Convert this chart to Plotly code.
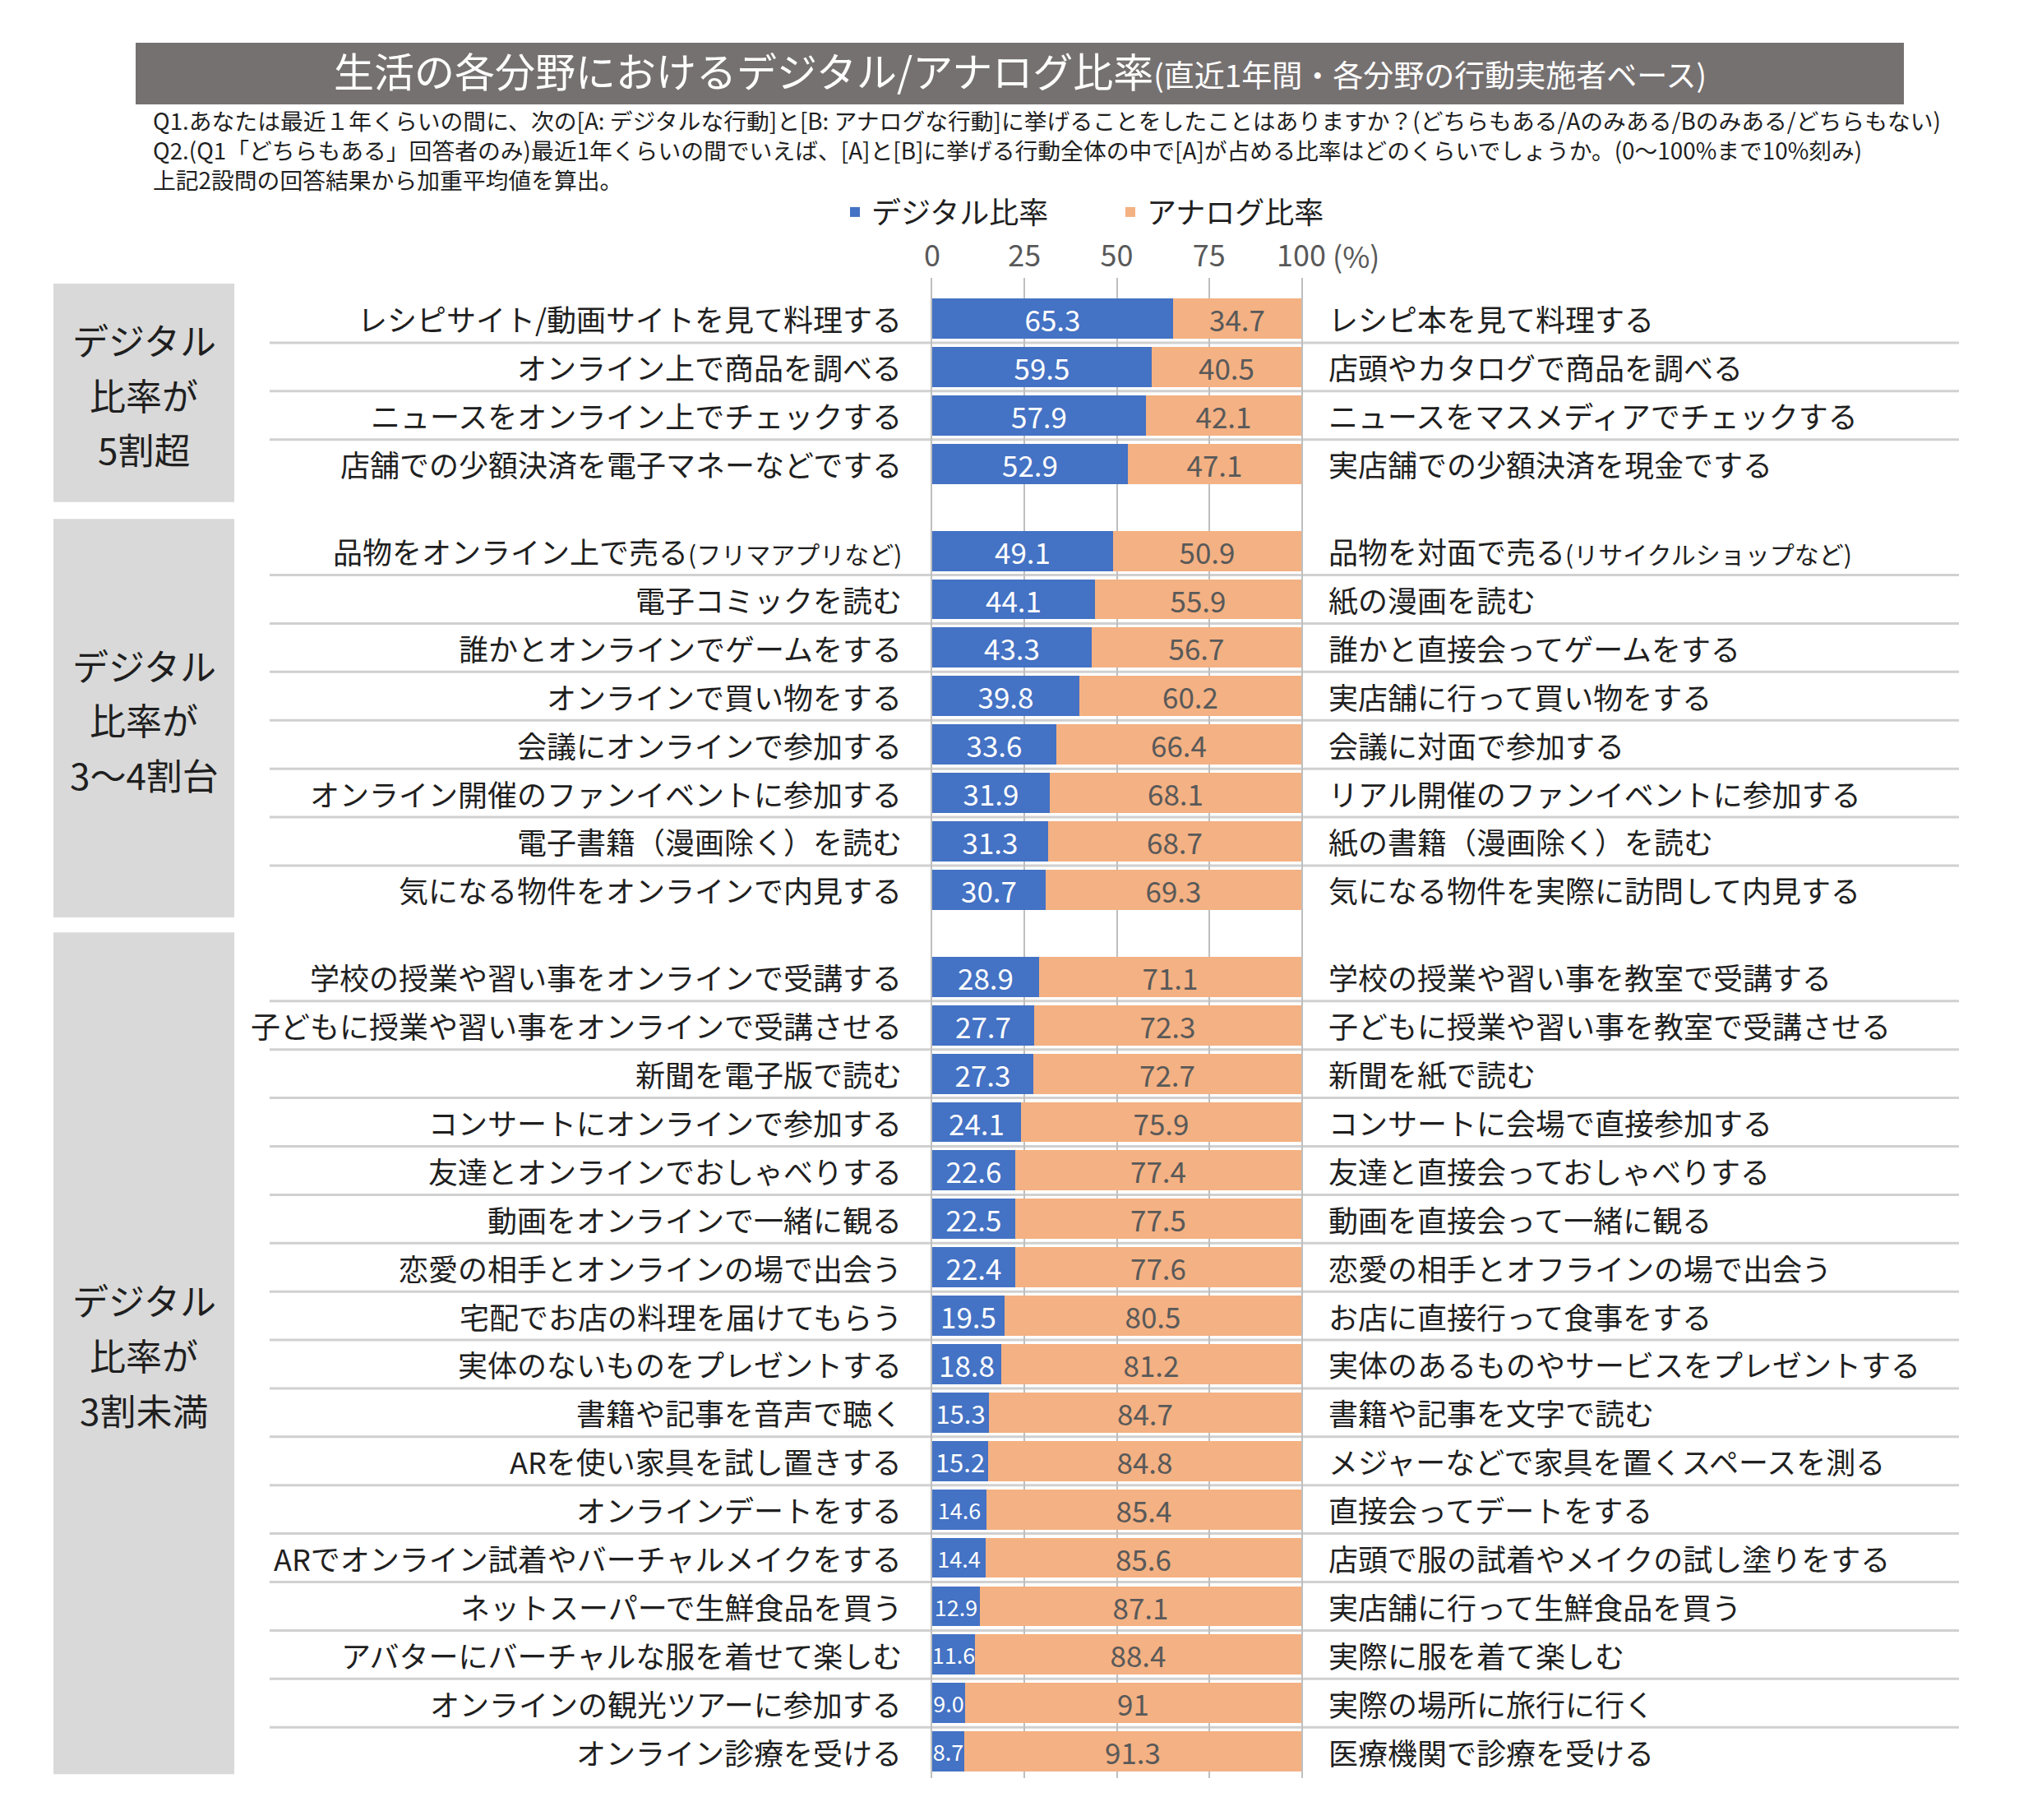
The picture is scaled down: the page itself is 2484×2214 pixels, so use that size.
import plotly.graph_objects as go

# page body has an 8px margin, so the figure is sized to fit the 2484x2214 window
OFF = 8
W, H = 2484 - 2 * OFF, 2214 - 2 * OFF
FONT = "Noto Sans CJK JP"

# ---------------- data ----------------
group_lines = [["デジタル", "比率が", "5割超"],
               ["デジタル", "比率が", "3〜4割台"],
               ["デジタル", "比率が", "3割未満"]]
group_sizes = [4, 8, 17]

digital_actions = [
    "レシピサイト/動画サイトを見て料理する",
    "オンライン上で商品を調べる",
    "ニュースをオンライン上でチェックする",
    "店舗での少額決済を電子マネーなどでする",
    "品物をオンライン上で売る(フリマアプリなど)",
    "電子コミックを読む",
    "誰かとオンラインでゲームをする",
    "オンラインで買い物をする",
    "会議にオンラインで参加する",
    "オンライン開催のファンイベントに参加する",
    "電子書籍（漫画除く）を読む",
    "気になる物件をオンラインで内見する",
    "学校の授業や習い事をオンラインで受講する",
    "子どもに授業や習い事をオンラインで受講させる",
    "新聞を電子版で読む",
    "コンサートにオンラインで参加する",
    "友達とオンラインでおしゃべりする",
    "動画をオンラインで一緒に観る",
    "恋愛の相手とオンラインの場で出会う",
    "宅配でお店の料理を届けてもらう",
    "実体のないものをプレゼントする",
    "書籍や記事を音声で聴く",
    "ARを使い家具を試し置きする",
    "オンラインデートをする",
    "ARでオンライン試着やバーチャルメイクをする",
    "ネットスーパーで生鮮食品を買う",
    "アバターにバーチャルな服を着せて楽しむ",
    "オンラインの観光ツアーに参加する",
    "オンライン診療を受ける",
]
analog_actions = [
    "レシピ本を見て料理する",
    "店頭やカタログで商品を調べる",
    "ニュースをマスメディアでチェックする",
    "実店舗での少額決済を現金でする",
    "品物を対面で売る(リサイクルショップなど)",
    "紙の漫画を読む",
    "誰かと直接会ってゲームをする",
    "実店舗に行って買い物をする",
    "会議に対面で参加する",
    "リアル開催のファンイベントに参加する",
    "紙の書籍（漫画除く）を読む",
    "気になる物件を実際に訪問して内見する",
    "学校の授業や習い事を教室で受講する",
    "子どもに授業や習い事を教室で受講させる",
    "新聞を紙で読む",
    "コンサートに会場で直接参加する",
    "友達と直接会っておしゃべりする",
    "動画を直接会って一緒に観る",
    "恋愛の相手とオフラインの場で出会う",
    "お店に直接行って食事をする",
    "実体のあるものやサービスをプレゼントする",
    "書籍や記事を文字で読む",
    "メジャーなどで家具を置くスペースを測る",
    "直接会ってデートをする",
    "店頭で服の試着やメイクの試し塗りをする",
    "実店舗に行って生鮮食品を買う",
    "実際に服を着て楽しむ",
    "実際の場所に旅行に行く",
    "医療機関で診療を受ける",
]
digital = [65.3, 59.5, 57.9, 52.9,
           49.1, 44.1, 43.3, 39.8, 33.6, 31.9, 31.3, 30.7,
           28.9, 27.7, 27.3, 24.1, 22.6, 22.5, 22.4, 19.5, 18.8, 15.3, 15.2,
           14.6, 14.4, 12.9, 11.6, 9.0, 8.7]
analog = [34.7, 40.5, 42.1, 47.1,
          50.9, 55.9, 56.7, 60.2, 66.4, 68.1, 68.7, 69.3,
          71.1, 72.3, 72.7, 75.9, 77.4, 77.5, 77.6, 80.5, 81.2, 84.7, 84.8,
          85.4, 85.6, 87.1, 88.4, 91, 91.3]
tick_vals = [0, 25, 50, 75, 100]
legend_names = ["デジタル比率", "アナログ比率"]

title_main = "生活の各分野におけるデジタル/アナログ比率"
title_sub = "(直近1年間・各分野の行動実施者ベース)"
notes = [
    "Q1.あなたは最近１年くらいの間に、次の[A: デジタルな行動]と[B: アナログな行動]に挙げることをしたことはありますか？(どちらもある/Aのみある/Bのみある/どちらもない)",
    "Q2.(Q1「どちらもある」回答者のみ)最近1年くらいの間でいえば、[A]と[B]に挙げる行動全体の中で[A]が占める比率はどのくらいでしょうか。(0〜100%まで10%刻み)",
    "上記2設問の回答結果から加重平均値を算出。",
]

# ---------------- layout helpers ----------------
GAP = 0.8
pos = []
group_bounds = []
p = 0.0
for gi, n in enumerate(group_sizes):
    if gi > 0:
        p += GAP
    start = p
    for k in range(n):
        pos.append(p)
        p += 1
    group_bounds.append((start, p - 1))

def px(x):
    return (x - OFF) / W

def py(y):
    return 1 - (y - OFF) / H

BLUE = "#4472C4"
ORANGE = "#F4B183"
TXT = "#1f1f1f"
GRAY_TXT = "#595959"
GRID = "#BFBFBF"

def dsize(v):
    if v >= 18:
        return 35
    if v >= 15:
        return 31
    return 27

fig = go.Figure()
fig.add_trace(go.Bar(
    y=pos, x=digital, orientation="h", name=legend_names[0],
    marker=dict(color=BLUE, line=dict(width=0)), width=0.83,
    text=[str(v) for v in digital], textposition="inside",
    insidetextanchor="middle", constraintext="none", textangle=0,
    insidetextfont=dict(family=FONT, color="white", size=[dsize(v) for v in digital]),
    cliponaxis=False, hoverinfo="skip",
))
fig.add_trace(go.Bar(
    y=pos, x=analog, orientation="h", name=legend_names[1],
    marker=dict(color=ORANGE, line=dict(width=0)), width=0.83,
    text=[str(v) for v in analog], textposition="inside",
    insidetextanchor="middle", constraintext="none", textangle=0,
    insidetextfont=dict(family=FONT, color=GRAY_TXT, size=35),
    cliponaxis=False, hoverinfo="skip",
))

shapes = []
annotations = []

# title box
shapes.append(dict(type="rect", xref="paper", yref="paper",
                   x0=px(165), x1=px(2316), y0=py(127), y1=py(52),
                   fillcolor="#767171", line=dict(width=0), layer="below"))
annotations.append(dict(
    xref="paper", yref="paper", x=px(1241), y=py(85), xanchor="center", yanchor="middle",
    text=title_main + "<span style='font-size:37px'>" + title_sub + "</span>",
    showarrow=False, font=dict(family=FONT, size=49, color="white")))

# question notes (one block, left aligned)
annotations.append(dict(xref="paper", yref="paper", x=px(184), y=py(182),
                        xanchor="left", yanchor="middle", align="left",
                        text="<br>".join(notes), showarrow=False,
                        font=dict(family=FONT, size=27.8, color=TXT)))

# (%) next to last tick
annotations.append(dict(xref="paper", yref="paper", x=px(1619), y=py(310),
                        xanchor="left", yanchor="middle", text="(%)", showarrow=False,
                        font=dict(family=FONT, size=36, color=GRAY_TXT)))

# group boxes and labels
pads = [(0.72, 0.79), (0.66, 0.57), (0.92, 0.47)]
for (b0, b1), (pt, pb), lines in zip(group_bounds, pads, group_lines):
    y0, y1 = b0 - pt, b1 + pb
    shapes.append(dict(type="rect", xref="paper", yref="y",
                       x0=px(65), x1=px(285), y0=y0, y1=y1,
                       fillcolor="#D9D9D9", line=dict(width=0), layer="below"))
    c = (y0 + y1) / 2 + 0.03
    for k, ln in enumerate(lines):
        annotations.append(dict(xref="paper", yref="y", x=px(175), y=c + (k - 1) * 1.135,
                                xanchor="center", yanchor="middle", text=ln, showarrow=False,
                                font=dict(family=FONT, size=44, color=TXT)))
    # separators between rows inside the group
    q = b0
    while q < b1 - 0.01:
        shapes.append(dict(type="line", xref="paper", yref="y",
                           x0=px(328), x1=px(2383), y0=q + 0.5, y1=q + 0.5,
                           line=dict(color="#D0D0D0", width=3), layer="below"))
        q += 1

def fmt_label(s):
    if "(" in s:
        a, b = s.split("(", 1)
        return a + "<span style='font-size:30px'>(" + b + "</span>"
    return s

for yy, dl, al in zip(pos, digital_actions, analog_actions):
    annotations.append(dict(xref="paper", yref="y", x=px(1099), y=yy,
                            xanchor="right", yanchor="middle", text=fmt_label(dl),
                            showarrow=False, font=dict(family=FONT, size=36, color=TXT)))
    annotations.append(dict(xref="paper", yref="y", x=px(1614), y=yy,
                            xanchor="left", yanchor="middle", text=fmt_label(al),
                            showarrow=False, font=dict(family=FONT, size=36, color=TXT)))

fig.update_layout(
    width=W, height=H,
    margin=dict(l=0, r=0, t=0, b=0, autoexpand=False),
    paper_bgcolor="white", plot_bgcolor="white",
    barmode="stack", bargap=0,
    font=dict(family=FONT, color=TXT),
    showlegend=True,
    legend=dict(orientation="h", traceorder="normal",
                x=px(1020), y=py(258), xanchor="left", yanchor="middle",
                font=dict(family=FONT, size=36, color=TXT), entrywidth=290,
                bgcolor="rgba(0,0,0,0)", itemclick=False),
    xaxis=dict(domain=[px(1134), px(1583)], range=[0, 100], side="top",
               tickvals=tick_vals, ticktext=[str(v) for v in tick_vals],
               tickfont=dict(family=FONT, size=36, color=GRAY_TXT),
               showgrid=True, gridcolor=GRID, gridwidth=2,
               zeroline=False, showline=False, ticks="", ticklabelstandoff=6,
               automargin=False, fixedrange=True),
    yaxis=dict(domain=[py(2163), py(338)], range=[pos[-1] + 0.55, -0.84],
               showgrid=False, zeroline=False, showticklabels=False,
               showline=True, mirror=True, linecolor=GRID, linewidth=2,
               automargin=False, fixedrange=True),
    shapes=shapes,
    annotations=annotations,
)

fig.write_html("out.html")
